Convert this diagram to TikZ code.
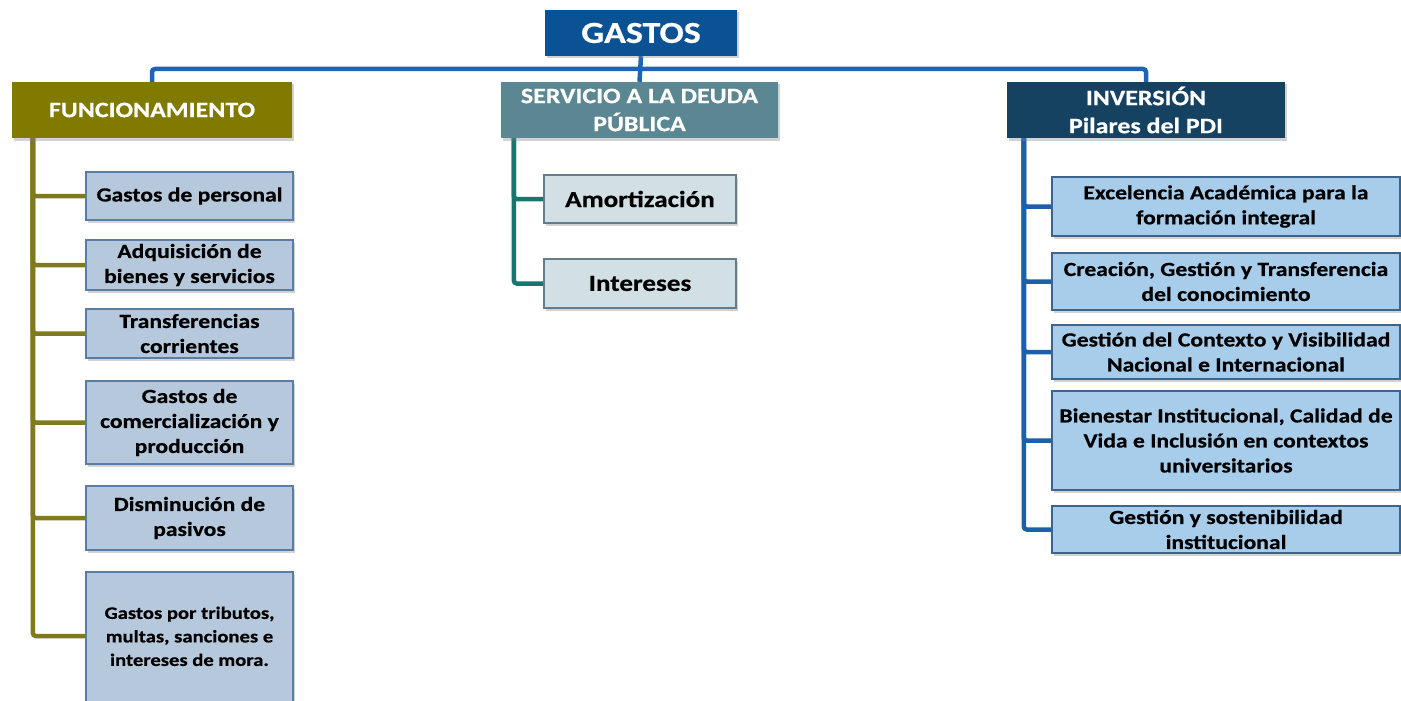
\documentclass[tikz,border=0pt]{standalone}
\usepackage{fontspec}
\setmainfont{Carlito}[FakeStretch=1.18,BoldFeatures={FakeBold=0.6}]
\usetikzlibrary{shadows}
\pgfdeclarelayer{bg}
\pgfdeclarelayer{background}
\pgfsetlayers{bg,background,main}
\definecolor{gastosblue}{RGB}{11,82,148}
\definecolor{busblue}{RGB}{30,100,180}
\definecolor{funfill}{RGB}{128,122,0}
\definecolor{funline}{RGB}{128,122,30}
\definecolor{funchild}{RGB}{181,200,220}
\definecolor{funborder}{RGB}{90,125,165}
\definecolor{serfill}{RGB}{90,135,145}
\definecolor{serline}{RGB}{20,120,110}
\definecolor{serchild}{RGB}{210,224,230}
\definecolor{serborder}{RGB}{100,125,140}
\definecolor{invfill}{RGB}{22,66,98}
\definecolor{invline}{RGB}{30,95,170}
\definecolor{invchild}{RGB}{167,205,235}
\definecolor{invborder}{RGB}{60,100,140}
\tikzset{
  shad/.style={drop shadow={opacity=0.35,shadow xshift=1.5pt,shadow yshift=-2.5pt}},
  header/.style={shad,draw=none,text=white,align=center,inner sep=0pt,
    font=\bfseries\fontsize{22}{28}\selectfont,minimum height=56pt},
  child/.style={shad,draw,line width=1.3pt,align=center,inner sep=0pt,
    font=\bfseries\fontsize{20}{25}\selectfont},
  funbox/.style={child,fill=funchild,draw=funborder,minimum width=207pt},
  serbox/.style={child,fill=serchild,draw=serborder,minimum width=192pt,
    font=\bfseries\fontsize{23}{27}\selectfont},
  invbox/.style={child,fill=invchild,draw=invborder,minimum width=348pt},
  conn/.style={line width=4.5pt,rounded corners=3pt},
}
\begin{document}
\begin{tikzpicture}[x=1pt,y=-1pt]
\begin{pgfonlayer}{bg}
\fill[white] (0,0) rectangle (1401,701);
\end{pgfonlayer}
\useasboundingbox (0,0) rectangle (1401,701);
\node[header,fill=gastosblue,minimum width=192pt,minimum height=46pt,
  font=\bfseries\fontsize{30.5}{34}\selectfont] (g) at (641,33) {GASTOS};
\node[header,fill=funfill,minimum width=280pt] (fun) at (152,110) {FUNCIONAMIENTO};
\node[header,fill=serfill,minimum width=277pt] (ser) at (639.5,110) {SERVICIO A LA DEUDA\\PÚBLICA};
\node[header,fill=invfill,minimum width=278pt] (inv) at (1146,110) {INVERSIÓN\\Pilares del PDI};

\node[funbox,minimum height=48pt] (f1) at (189.5,196) {Gastos de personal};
\node[funbox,minimum height=50pt] (f2) at (189.5,265) {Adquisición de\\bienes y servicios};
\node[funbox,minimum height=49pt] (f3) at (189.5,333.5) {Transferencias\\corrientes};
\node[funbox,minimum height=83pt] (f4) at (189.5,422.5) {Gastos de\\comercialización y\\producción};
\node[funbox,minimum height=64pt] (f5) at (189.5,518) {Disminución de\\pasivos};
\node[funbox,minimum height=142pt,font=\bfseries\fontsize{17.5}{23.5}\selectfont] (f6) at (189.5,643) {Gastos por tributos,\\multas, sanciones e\\intereses de mora.\\[-10pt]\mbox{}};

\node[serbox,minimum height=48pt] (s1) at (640,199) {Amortización};
\node[serbox,minimum height=49pt] (s2) at (640,283.5) {Intereses};

\node[invbox,minimum height=59pt] (i1) at (1226,206.5) {Excelencia Académica para la\\formación integral};
\node[invbox,minimum height=57pt] (i2) at (1226,281.5) {Creación, Gestión y Transferencia\\del conocimiento};
\node[invbox,minimum height=54pt] (i3) at (1226,352) {Gestión del Contexto y Visibilidad\\Nacional e Internacional};
\node[invbox,minimum height=99pt] (i4) at (1226,440.5) {Bienestar Institucional, Calidad de\\Vida e Inclusión en contextos\\universitarios};
\node[invbox,minimum height=47pt] (i5) at (1226,529.5) {Gestión y sostenibilidad\\institucional};

\begin{pgfonlayer}{background}
\coordinate (bus) at (641,69);
\draw[conn,busblue] (g.south) -- (ser.north);
\draw[conn,busblue] (fun.north) |- (bus) -| (inv.north);
\coordinate (ft) at ([xshift=21pt]fun.south west);
\coordinate (f6in) at (f6.west |- 0,636);
\foreach \c in {f1.west,f2.west,f3.west,f4.west,f5.west,f6in} \draw[conn,funline] (ft) |- (\c);
\coordinate (st) at ([xshift=13pt]ser.south west);
\foreach \c in {s1,s2} \draw[conn,serline] (st) |- (\c.west);
\coordinate (it) at ([xshift=17pt]inv.south west);
\foreach \c in {i1,i2,i3,i4,i5} \draw[conn,invline] (it) |- (\c.west);
\end{pgfonlayer}
\end{tikzpicture}
\end{document}
